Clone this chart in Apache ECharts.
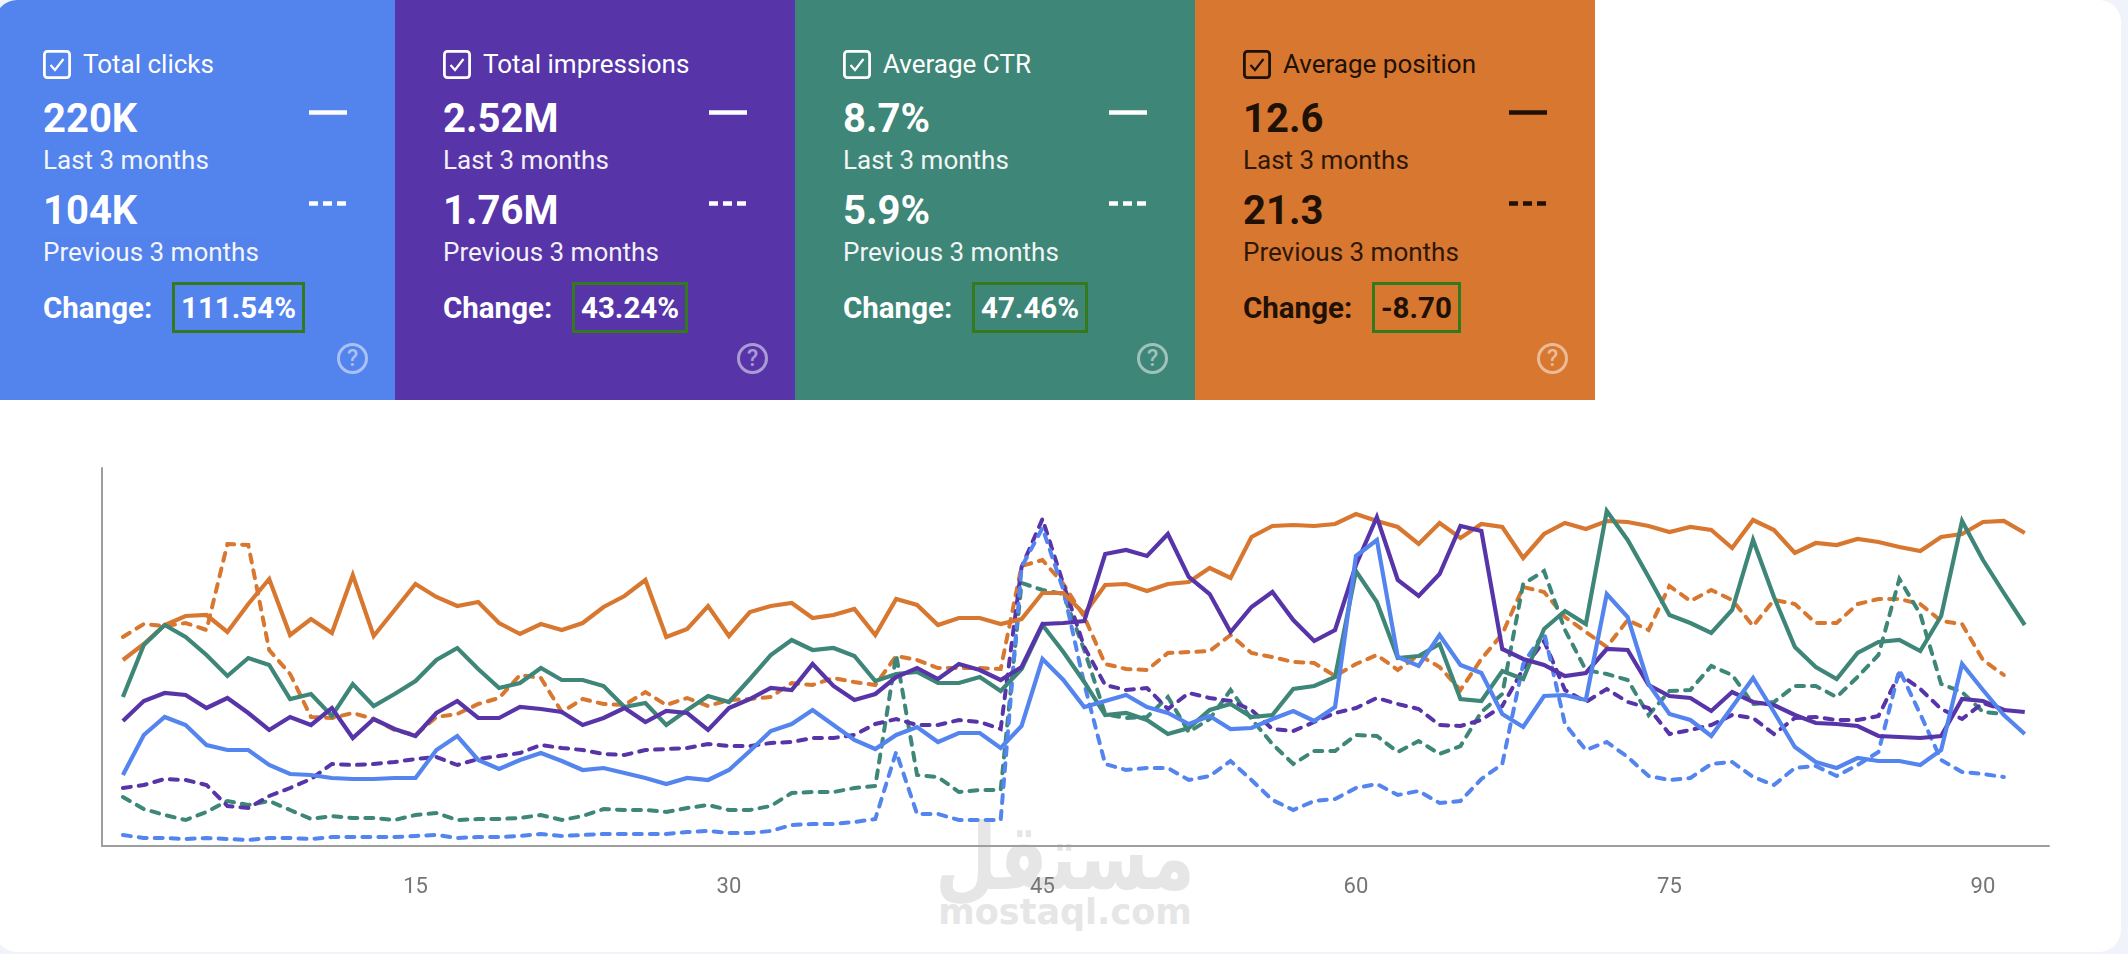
<!DOCTYPE html>
<html>
<head>
<meta charset="utf-8">
<title>Search performance</title>
<script src="https://cdn.jsdelivr.net/npm/echarts@6/dist/echarts.min.js"></script>
<style>
html, body { margin: 0; padding: 0; background: #f1f3fa; }
#card { position: absolute; left: -5px; top: 0; width: 2126px; height: 952px; background: #fff; border-radius: 22px; overflow: hidden; }
#chart { position: absolute; left: 0; top: 0; width: 2128px; height: 954px; }
#mark { position: absolute; left: 920px; top: 800px; width: 290px; text-align: center; color: #e6e6e6; font-family: "DejaVu Sans", sans-serif; font-weight: bold; }
.panel { position: absolute; top: 0; width: 400px; height: 400px; font-family: Roboto, sans-serif; }
.panel div, .panel svg { position: absolute; white-space: nowrap; }
.name { left: 48px; top: 48px; padding-left: 40px; font-size: 26px; line-height: 32px; }
.big { left: 48px; font-size: 40px; font-weight: 700; line-height: 44px; }
.sub { left: 48px; font-size: 26px; line-height: 30px; opacity: .93; }
.chg { left: 48px; top: 290px; font-size: 29.5px; font-weight: 700; line-height: 36px; }
.box { left: 177px; top: 282px; height: 45px; line-height: 46px; padding: 0 6px; border: 3.5px solid #35791f; font-size: 29.5px; font-weight: 700; }
.help { left: 342px; top: 343px; width: 25px; height: 25px; border: 3px solid currentColor; border-radius: 50%; text-align: center; font-size: 23px; font-weight: 500; line-height: 26px; opacity: .5; }
</style>
</head>
<body>
<div id="card"><div id="panels"></div></div>
<div id="mark"><div style="font-size:71px;line-height:90px;transform:scaleY(1.3) translateY(10px)">مستقل</div><div style="font-size:35px;line-height:44px">mostaql.com</div></div>
<div id="chart"></div>
<script>
// scorecards
var metricNames = ['Total clicks', 'Total impressions', 'Average CTR', 'Average position'];
var lastValues = ['220K', '2.52M', '8.7%', '12.6'];
var prevValues = ['104K', '1.76M', '5.9%', '21.3'];
var changes = ['111.54%', '43.24%', '47.46%', '-8.70'];
var panelColors = ['#5383ec', '#5735a8', '#3e8678', '#d8772f'];
var textColors = ['#fff', '#fff', '#fff', '#1f1106'];

// chart values (unlabelled axis, 0-378)
var clicksLast = [71,111,129,121,101,96,96,81,72,71,68,67,67,68,68,96,110,86,77,86,93,
  85,76,78,73,68,62,68,66,76,95,115,122,136,121,106,97,111,119,104,113,113,98,
  120,187,166,139,145,151,139,133,122,130,117,118,127,135,125,139,290,306,189,180,211,181,173,132,119,150,
  151,146,252,229,162,132,126,110,139,168,134,99,84,78,88,85,85,81,96,182,156,131,112];
var clicksPrev = [11,8,8,7,8,7,6,8,8,7,9,9,9,9,10,11,8,9,9,10,12,
  10,11,12,12,12,12,14,15,13,13,15,21,22,22,24,27,94,32,32,26,26,26,
  279,318,256,162,82,76,78,78,66,70,85,66,46,36,45,47,58,62,51,55,43,45,67,82,182,214,
  122,96,104,89,70,66,68,82,84,69,61,78,80,70,81,94,176,132,86,74,72,69];
var imprLast = [125,145,153,151,138,148,133,116,129,121,138,108,127,117,110,133,145,128,128,139,137,
  134,121,128,138,124,135,133,116,138,147,158,156,182,160,146,152,169,178,167,182,176,166,
  179,222,223,225,292,296,290,312,269,252,214,239,254,226,205,216,281,329,266,250,272,320,315,197,187,181,
  170,173,197,196,161,150,148,135,154,144,141,131,123,122,120,110,109,108,110,147,145,136,134];
var imprPrev = [58,61,67,66,61,40,38,50,58,67,82,81,82,84,87,89,81,87,90,93,101,
  98,96,92,91,96,97,98,102,100,100,103,104,108,108,111,122,127,121,121,126,124,117,
  279,327,262,199,161,156,158,137,153,148,145,136,117,115,124,133,138,148,142,137,121,120,126,140,177,205,
  156,144,157,144,138,112,116,121,131,128,112,128,129,126,126,130,172,157,137,127,143,136];
var ctrLast = [149,201,221,209,191,170,188,181,147,152,130,162,140,152,165,186,198,177,158,163,178,
  166,166,160,139,143,121,136,150,144,167,191,206,196,198,190,165,172,174,163,163,169,155,
  177,221,194,164,131,133,126,112,118,136,142,129,131,157,160,169,275,244,188,190,202,147,145,175,167,217,
  235,222,335,306,269,231,223,213,236,306,249,199,179,167,193,204,206,195,230,325,286,253,221];
var ctrPrev = [49,37,31,26,34,45,41,45,36,27,30,28,28,26,31,33,26,27,27,28,31,
  26,30,37,36,36,34,38,41,36,36,40,53,54,54,58,60,191,71,69,54,56,56,
  263,256,252,196,132,128,129,149,114,127,156,127,102,82,95,95,111,110,94,105,92,100,134,152,262,275,
  216,176,172,166,131,155,156,180,171,142,144,160,160,149,169,191,267,232,162,154,134,132];
var posLast = [186,202,221,230,231,214,242,267,211,227,213,271,210,236,262,249,240,244,223,212,222,
  216,223,239,250,266,209,217,240,210,234,240,243,228,231,237,211,247,241,221,228,228,222,
  227,253,253,232,261,262,255,262,264,278,268,309,320,321,320,322,332,325,319,302,323,308,322,319,288,312,
  323,317,325,324,320,314,319,316,298,326,316,293,303,301,307,304,299,295,309,312,324,325,313];
var posPrev = [209,222,220,223,216,302,301,196,172,129,128,133,127,116,111,129,132,142,148,171,168,
  134,147,142,141,154,141,148,140,146,147,149,163,161,168,164,161,190,186,178,178,178,177,
  280,286,262,229,182,177,176,193,194,195,211,193,189,184,183,170,182,191,176,191,179,156,187,212,259,254,
  229,214,199,226,216,260,245,256,246,220,246,242,223,223,242,247,247,242,225,222,186,171];

var lineColors = { clicks: '#5484ee', impr: '#5735a8', ctr: '#3e8678', pos: '#d8772f' };

var checkSvg = '<svg style="left:0;top:2px" width="28" height="29" viewBox="0 0 28 29">' +
  '<rect x="1.4" y="1.4" width="25.2" height="26.2" rx="3" fill="none" stroke="currentColor" stroke-width="2.8"/>' +
  '<path d="M7.5 15l4.5 5 8.5-11" fill="none" stroke="currentColor" stroke-width="2.2"/></svg>';

var html = '';
metricNames.forEach(function (name, i) {
    var dark = textColors[i] !== '#fff';
    html += '<div class="panel" style="left:' + (i * 400) + 'px;background:' + panelColors[i] + ';color:' + textColors[i] + '">' +
        '<div class="name">' + checkSvg + name + '</div>' +
        '<div class="big" style="top:97px">' + lastValues[i] + '</div>' +
        '<div class="sub" style="top:145px">Last 3 months</div>' +
        '<div class="big" style="top:189px">' + prevValues[i] + '</div>' +
        '<div class="sub" style="top:237px">Previous 3 months</div>' +
        '<div class="chg">Change:</div>' +
        '<div class="box">' + changes[i] + '</div>' +
        '<svg style="left:314px;top:105px" width="40" height="104"><path d="M0 7.5H38" stroke="currentColor" stroke-width="4.5"/>' +
        '<path d="M0 98.5H37" stroke="currentColor" stroke-width="4.5" stroke-dasharray="9 5"/></svg>' +
        '<div class="help"' + (dark ? ' style="color:#fff"' : '') + '>?</div>' +
        '</div>';
});
document.getElementById('panels').innerHTML = html;

function pairs(arr) {
    return arr.map(function (v, i) { return [i + 1, v]; });
}
function lineSeries(name, data, color, dashed) {
    return {
        name: name,
        type: 'line',
        data: pairs(data),
        symbol: 'none',
        silent: true,
        lineStyle: {
            color: color,
            width: dashed ? 4 : 4.2,
            type: dashed ? [8, 8] : 'solid',
            cap: dashed ? 'round' : 'butt',
            join: 'miter'
        }
    };
}

var chart = echarts.init(document.getElementById('chart'), null, { renderer: 'canvas' });
chart.setOption({
    animation: false,
    backgroundColor: 'transparent',
    grid: { left: 102, right: 79, top: 468, bottom: 108, containLabel: false },
    xAxis: {
        type: 'value',
        min: 0,
        max: 93.16,
        interval: 15,
        splitLine: { show: false },
        axisTick: { show: false },
        axisLine: { lineStyle: { color: '#9e9e9e', width: 2 } },
        axisLabel: {
            color: '#757575',
            fontFamily: 'Roboto',
            fontSize: 22,
            margin: 30,
            formatter: function (v) { return v > 0 && v % 15 === 0 ? String(v) : ''; }
        }
    },
    yAxis: {
        type: 'value',
        min: 0,
        max: 378,
        splitLine: { show: false },
        axisTick: { show: false },
        axisLabel: { show: false },
        axisLine: { show: true, lineStyle: { color: '#9e9e9e', width: 2 } }
    },
    series: [
        lineSeries('Average position prev', posPrev, lineColors.pos, true),
        lineSeries('Average CTR prev', ctrPrev, lineColors.ctr, true),
        lineSeries('Total impressions prev', imprPrev, lineColors.impr, true),
        lineSeries('Total clicks prev', clicksPrev, lineColors.clicks, true),
        lineSeries('Average position', posLast, lineColors.pos, false),
        lineSeries('Average CTR', ctrLast, lineColors.ctr, false),
        lineSeries('Total impressions', imprLast, lineColors.impr, false),
        lineSeries('Total clicks', clicksLast, lineColors.clicks, false)
    ]
});
</script>
</body>
</html>
